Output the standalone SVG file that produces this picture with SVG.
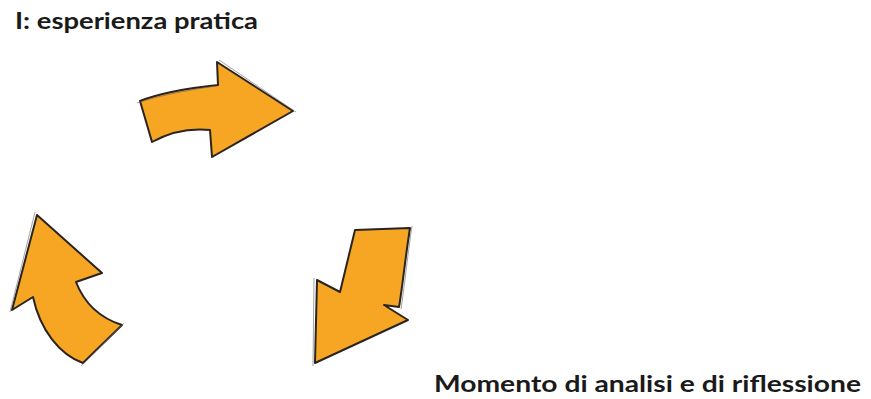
<svg xmlns="http://www.w3.org/2000/svg" width="871" height="399" viewBox="0 0 871 399">
<style>
.arr{fill:#F6A623;stroke:#2a2420;stroke-width:2;stroke-linejoin:round}
.sk{fill:none;stroke:#6b6460;stroke-width:1;opacity:0.6}
.lbl{font-family:Lato,"Open Sans","Liberation Sans",sans-serif;font-weight:bold;fill:#1a1a1a}
</style>
<rect width="871" height="399" fill="#ffffff"/>
<g id="label-top">
<text class="lbl" x="15" y="29" font-size="22" textLength="243" lengthAdjust="spacingAndGlyphs">I: esperienza pratica</text>
</g>
<g id="label-bottom">
<text class="lbl" x="434" y="392" font-size="23" textLength="427" lengthAdjust="spacingAndGlyphs">Momento di analisi e di riflessione</text>
</g>
<g id="connectors">
<g id="arrow-top">
<path class="arr" d="M140,101 C160,93 190,88 218,85 L217,62 L293,111 L212,157 L210,130 C190,128 170,132 152,142 Z"/>
<path class="sk" d="M137,103 C160,95 190,90 216,86 M219,60 L296,112"/>
</g>
<g id="arrow-right">
<path class="arr" d="M355,230 L410,228 C405,260 402,290 399,307 L384,305 L408,320 L315,363 L317,280 L340,292 Z"/>
<path class="sk" d="M412,226 C407,260 404,290 401,309 M314,278 L313,366"/>
</g>
<g id="arrow-left">
<path class="arr" d="M37,215 L102,273 L76,282 C85,305 100,318 122,325 L83,363 C60,355 40,330 33,297 L12,310 Z"/>
<path class="sk" d="M35,212 L10,312 M124,323 L81,366"/>
</g>
</g>
</svg>
